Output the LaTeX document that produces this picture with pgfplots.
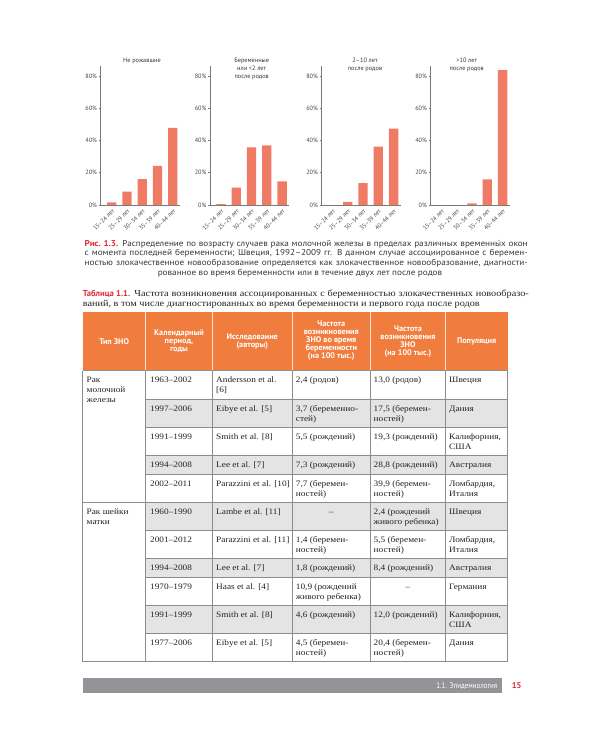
\documentclass[border=0pt]{standalone}
\usepackage{pgfplots}
\pgfplotsset{compat=1.18}
\usepackage{fontspec}
\setmainfont{PT Sans}
\newfontfamily\capsans[FakeStretch=1.08]{PT Sans}
\newfontfamily\tserif[FakeStretch=1.12]{Liberation Serif}
\newfontfamily\narrowsans[FakeStretch=0.85]{PT Sans}
\definecolor{barc}{RGB}{239,123,101}
\definecolor{axisgray}{RGB}{120,120,120}
\definecolor{tickgray}{RGB}{70,70,70}
\definecolor{capred}{RGB}{222,45,55}
\definecolor{captext}{RGB}{55,55,55}
\definecolor{hdr}{RGB}{240,125,62}
\definecolor{rowgray}{RGB}{228,228,228}
\definecolor{gridc}{RGB}{140,140,140}
\definecolor{footgray}{RGB}{148,148,152}
\definecolor{bodytext}{RGB}{35,35,35}
\newcommand\tabfont{\tserif\fontsize{8.3}{10}\selectfont}
\newcommand\titfont{\tserif\fontsize{9.15}{10}\selectfont}
\newcommand\capfont{\capsans\fontsize{8.5}{10}\selectfont}
\newcommand\hfont{\bfseries\fontsize{8.2}{8}\selectfont}
\pgfplotsset{agechart/.style={
  scale only axis, width=79pt, height=138.7pt,
  xmin=-0.72, xmax=4.45, ymin=0, ymax=86,
  anchor=south west,
  axis x line*=bottom, axis y line*=left,
  axis line style={draw=axisgray, line width=0.5pt},
  ytick={0,20,40,60,80}, yticklabels={0\%,20\%,40\%,60\%,80\%},
  xtick={0,1,2,3,4},
  xticklabels={15–24 лет,25–29 лет,30–34 лет,35–39 лет,40–44 лет},
  x tick label style={rotate=45, anchor=north east, inner sep=1pt,
     font=\fontsize{6}{6}\selectfont, text=tickgray},
  y tick label style={font=\fontsize{6.2}{6}\selectfont, text=tickgray, inner sep=1.5pt},
  ytick style={draw=axisgray, line width=0.5pt},
  xtick style={draw=none},
  major tick length=2pt, tick align=outside,
  ybar, bar width=9.3pt, clip=false}}
\newcommand\tx[3]{\node[anchor=base west, inner sep=0pt, font=\tabfont, text=bodytext] at (#1,#2) {#3};}
\begin{document}
\begin{tikzpicture}
\path[use as bounding box, fill=white] (0,0) rectangle (600pt,-750pt);
% ---- charts ----
\begin{axis}[agechart, at={(100.7pt,-205pt)}]
\addplot[fill=barc, draw=none] coordinates {(0,1.7) (1,8.3) (2,16.1) (3,24.2) (4,47.8)};
\end{axis}
\begin{axis}[agechart, at={(210pt,-205pt)}]
\addplot[fill=barc, draw=none] coordinates {(0,0.6) (1,10.7) (2,35.8) (3,37.0) (4,14.7)};
\end{axis}
\begin{axis}[agechart, at={(321.5pt,-205pt)}]
\addplot[fill=barc, draw=none] coordinates {(0,0) (1,1.9) (2,13.6) (3,36.2) (4,47.3)};
\end{axis}
\begin{axis}[agechart, at={(430.5pt,-205pt)}]
\addplot[fill=barc, draw=none] coordinates {(0,0) (1,0) (2,1.0) (3,15.9) (4,83.7)};
\end{axis}
\begin{scope}[x=1pt,y=-1pt]
% chart titles
\begin{scope}[every node/.style={anchor=base, inner sep=0pt, font=\fontsize{6.3}{7}\selectfont, text=captext}]
\node at (142,62.8) {Не рожавшие};
\node at (251.7,62.8) {Беременные};
\node at (251.7,70.5) {или <2 лет};
\node at (251.7,78.2) {после родов};
\node at (365,62.8) {2–10 лет};
\node at (365,70.5) {после родов};
\node at (466.7,62.8) {>10 лет};
\node at (466.7,70.5) {после родов};
\end{scope}
% caption
\begin{scope}[every node/.style={anchor=base west, inner sep=0pt, font=\capfont, text=captext}]
\node at (84.5,246) {\makebox[443pt][s]{\textcolor{capred}{\bfseries Рис.~1.3.} Распределение по возрасту случаев рака молочной железы в пределах различных временны́х окон}};
\node at (84.5,255.7) {\makebox[443pt][s]{с момента последней беременности; Швеция, 1992–2009 гг. В данном случае ассоциированное с беремен-}};
\node at (84.5,265.4) {\makebox[443pt][s]{ностью злокачественное новообразование определяется как злокачественное новообразование, диагности-}};
\node[anchor=base] at (300,275.1) {рованное во время беременности или в течение двух лет после родов};
\end{scope}
% table title
\node[anchor=base west, inner sep=0pt, text=bodytext] at (82.7,296.8) {\makebox[446pt][s]{\textcolor{capred}{\fontsize{8.6}{10}\selectfont\bfseries Таблица~1.1.} \titfont Частота возникновения ассоциированных с беременностью злокачественных новообразо-}};
\node[anchor=base west, inner sep=0pt, font=\titfont, text=bodytext] at (82.7,306.6) {ваний, в том числе диагностированных во время беременности и первого года после родов};
% header
\fill[hdr] (82.7,311.7) rectangle (507.7,370.7);
\foreach \xx in {145.7,212.3,292.3,370.3,445.7}{\draw[white, line width=0.5pt, opacity=0.8] (\xx,311.7) -- (\xx,370.7);}
\begin{scope}[every node/.style={align=center, inner sep=0pt, font=\hfont, text=white}]
\node at (114.2,341.2) {Тип ЗНО};
\node at (179,341.2) {Календарный\\период,\\годы};
\node at (252.3,341.2) {Исследование\\(авторы)};
\node at (331.3,340.5) {Частота\\возникновения\\ЗНО во время\\беременности\\(на 100 тыс.)};
\node at (408,341.2) {Частота\\возникновения\\ЗНО\\(на 100 тыс.)};
\node at (476.7,341.2) {Популяция};
\end{scope}
% shaded rows
\fill[rowgray] (145.7,398.8) rectangle (507.7,426.9);
\fill[rowgray] (145.7,455.0) rectangle (507.7,474.0);
\fill[rowgray] (145.7,502.1) rectangle (507.7,530.2);
\fill[rowgray] (145.7,558.3) rectangle (507.7,577.3);
\fill[rowgray] (145.7,605.4) rectangle (507.7,633.5);
% grid
\begin{scope}[gridc, line width=0.6pt]
\foreach \yy in {398.8,426.9,455.0,474.0,530.2,558.3,577.3,605.4,633.5}{\draw (145.7,\yy) -- (507.7,\yy);}
\foreach \yy in {370.7,502.1,661.6}{\draw (82.7,\yy) -- (507.7,\yy);}
\foreach \xx in {82.7,145.7,212.3,292.3,370.3,445.7,507.7}{\draw (\xx,370.7) -- (\xx,661.6);}
\end{scope}
% body
\tx{86.5}{382.9}{Рак}\tx{86.5}{392.9}{молочной}\tx{86.5}{402.9}{железы}
\tx{86.5}{514.3}{Рак шейки}\tx{86.5}{524.3}{матки}
% row 1
\tx{150}{382.9}{1963–2002}\tx{216}{382.9}{Andersson et al.}\tx{216}{392.9}{[6]}
\tx{295.7}{382.9}{2,4 (родов)}\tx{373.5}{382.9}{13,0 (родов)}\tx{449}{382.9}{Швеция}
% row 2
\tx{150}{411.0}{1997–2006}\tx{216}{411.0}{Eibye et al. [5]}
\tx{295.7}{411.0}{3,7 (беременно-}\tx{295.7}{421.0}{стей)}
\tx{373.5}{411.0}{17,5 (беремен-}\tx{373.5}{421.0}{ностей)}\tx{449}{411.0}{Дания}
% row 3
\tx{150}{439.1}{1991–1999}\tx{216}{439.1}{Smith et al. [8]}
\tx{295.7}{439.1}{5,5 (рождений)}\tx{373.5}{439.1}{19,3 (рождений)}
\tx{449}{439.1}{Калифорния,}\tx{449}{449.1}{США}
% row 4
\tx{150}{467.2}{1994–2008}\tx{216}{467.2}{Lee et al. [7]}
\tx{295.7}{467.2}{7,3 (рождений)}\tx{373.5}{467.2}{28,8 (рождений)}\tx{449}{467.2}{Австралия}
% row 5
\tx{150}{486.2}{2002–2011}\tx{216}{486.2}{Parazzini et al. [10]}
\tx{295.7}{486.2}{7,7 (беремен-}\tx{295.7}{496.2}{ностей)}
\tx{373.5}{486.2}{39,9 (беремен-}\tx{373.5}{496.2}{ностей)}
\tx{449}{486.2}{Ломбардия,}\tx{449}{496.2}{Италия}
% row 6
\tx{150}{514.3}{1960–1990}\tx{216}{514.3}{Lambe et al. [11]}
\node[anchor=base, inner sep=0pt, font=\tabfont, text=bodytext] at (331.3,514.3) {–};
\tx{373.5}{514.3}{2,4 (рождений}\tx{373.5}{524.3}{живого ребенка)}\tx{449}{514.3}{Швеция}
% row 7
\tx{150}{542.4}{2001–2012}\tx{216}{542.4}{Parazzini et al. [11]}
\tx{295.7}{542.4}{1,4 (беремен-}\tx{295.7}{552.4}{ностей)}
\tx{373.5}{542.4}{5,5 (беремен-}\tx{373.5}{552.4}{ностей)}
\tx{449}{542.4}{Ломбардия,}\tx{449}{552.4}{Италия}
% row 8
\tx{150}{570.5}{1994–2008}\tx{216}{570.5}{Lee et al. [7]}
\tx{295.7}{570.5}{1,8 (рождений)}\tx{373.5}{570.5}{8,4 (рождений)}\tx{449}{570.5}{Австралия}
% row 9
\tx{150}{589.5}{1970–1979}\tx{216}{589.5}{Haas et al. [4]}
\tx{295.7}{589.5}{10,9 (рождений}\tx{295.7}{599.5}{живого ребенка)}
\node[anchor=base, inner sep=0pt, font=\tabfont, text=bodytext] at (408,589.5) {–};
\tx{449}{589.5}{Германия}
% row 10
\tx{150}{617.6}{1991–1999}\tx{216}{617.6}{Smith et al. [8]}
\tx{295.7}{617.6}{4,6 (рождений)}\tx{373.5}{617.6}{12,0 (рождений)}
\tx{449}{617.6}{Калифорния,}\tx{449}{627.6}{США}
% row 11
\tx{150}{645.7}{1977–2006}\tx{216}{645.7}{Eibye et al. [5]}
\tx{295.7}{645.7}{4,5 (беремен-}\tx{295.7}{655.7}{ностей)}
\tx{373.5}{645.7}{20,4 (беремен-}\tx{373.5}{655.7}{ностей)}\tx{449}{645.7}{Дания}
% footer
\fill[footgray] (82.7,678) rectangle (502.3,692.5);
\node[anchor=base east, inner sep=0pt, font=\narrowsans\fontsize{8.2}{8}\selectfont, text=white] at (497.5,688.2) {1.1. Эпидемиология};
\node[anchor=base, inner sep=0pt, font=\bfseries\fontsize{8.5}{8}\selectfont, text=capred] at (516.7,688.4) {15};
\end{scope}
\end{tikzpicture}
\end{document}
